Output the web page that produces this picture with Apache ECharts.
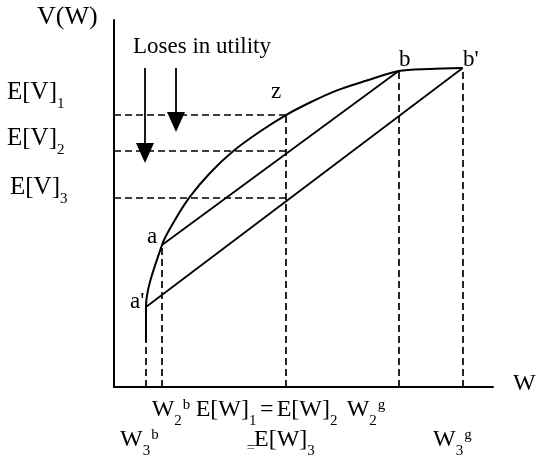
<!DOCTYPE html>
<html>
<head>
<meta charset="utf-8">
<script src="https://cdn.jsdelivr.net/npm/echarts@6/dist/echarts.min.js"></script>
<style>html,body{margin:0;padding:0;background:#fff;}#c{width:540px;height:466px;}</style>
</head>
<body>
<div id="c"></div>
<script>
// ---- data (chart units: W and V on 0..100 scales) ----
const curveW = [8.44, 8.44, 12.66, 16.09, 20.05, 25.33, 31.48, 38.52, 45.38, 51.72, 58.84, 66.49, 75.1, 83.38, 92.0];
const curveV = [12.26, 21.80, 38.69, 45.50, 51.85, 58.31, 64.31, 69.62, 74.11, 77.52, 80.82, 83.43, 86.10, 86.65, 86.92];
const pointNames = ["a'", "a", "z", "b", "b'"];
const pointW = [8.44, 12.66, 45.38, 75.1, 92.0];
const pointV = [21.80, 38.69, 74.11, 86.10, 86.92];
const EV = [74.11, 64.3, 51.5];           // E[V]1, E[V]2, E[V]3
const EW = 45.38;                          // E[W]1 = E[W]2 = E[W]3
const W3b = 8.44, W2b = 12.66, W2g = 75.1, W3g = 92.0;
const curveBaseV = 12.26;
const arrowW = [8.18, 16.36];
const arrowTop = [86.92, 86.92];
const arrowTip = [61.04, 69.48];

const FONT = '"Liberation Serif", "Times New Roman", serif';
const chart = echarts.init(document.getElementById('c'), null, {renderer: 'canvas'});

const ctx = document.createElement('canvas').getContext('2d');
function tw(t, size) { ctx.font = size + 'px ' + FONT; return ctx.measureText(t).width; }

// text builder: parts [text, kind] kind: m main, s sub, p sup, q small-on-baseline
function label(x, base, parts, size) {
  size = size || 24;
  const small = 15;
  const out = [];
  let cx = x;
  parts.forEach(function (p) {
    const t = p[0], k = p[1];
    let fs = size, b = base;
    if (k === 's') { fs = small; b = base + 8; }
    else if (k === 'p') { fs = small; b = base - 8; }
    else if (k === 'q') { fs = small; b = base + 5; }
    out.push({
      type: 'text', x: cx, y: b - 0.34 * fs, z: 100, silent: true,
      style: { text: t, font: fs + 'px ' + FONT, fill: '#000', align: 'left', verticalAlign: 'middle' }
    });
    cx += tw(t, fs) + (k === 's' ? 1 : 0);
  });
  return out;
}

let texts = [];
texts = texts.concat(label(37, 26, [['V(W)', 'm']], 26));
texts = texts.concat(label(133, 55, [['Loses in utility', 'm']], 23));
texts = texts.concat(label(7, 101, [['E[V]', 'm'], ['1', 's']], 25));
texts = texts.concat(label(7, 147, [['E[V]', 'm'], ['2', 's']], 25));
texts = texts.concat(label(10, 196, [['E[V]', 'm'], ['3', 's']], 25));
texts = texts.concat(label(513, 392, [['W', 'm']]));
texts = texts.concat(label(151.7, 418, [['W', 'm'], ['2', 's'], ['b', 'p']]));
texts = texts.concat(label(195.7, 418, [['E[W]', 'm'], ['1', 's']]));
texts = texts.concat(label(260, 418, [['=', 'm']]));
texts = texts.concat(label(276.7, 418, [['E[W]', 'm'], ['2', 's']]));
texts = texts.concat(label(346.7, 418, [['W', 'm'], ['2', 's'], ['g', 'p']]));
texts = texts.concat(label(120, 448, [['W', 'm'], ['3', 's'], ['b', 'p']]));
texts = texts.concat(label(246.7, 448, [['=', 'q']]));
texts = texts.concat(label(254, 448, [['E[W]', 'm'], ['3', 's']]));
texts = texts.concat(label(433, 448, [['W', 'm'], ['3', 's'], ['g', 'p']]));
// point labels
const ptLabelPos = { "a'": [130, 310], "a": [147, 245], "z": [271, 100], "b": [399, 68], "b'": [463, 68] };
pointNames.forEach(function (n) { texts = texts.concat(label(ptLabelPos[n][0], ptLabelPos[n][1], [[n, 'm']], 23)); });

const black = '#000';
const dashed = { color: black, width: 1.7, type: [7, 4] };

const option = {
  animation: false,
  backgroundColor: '#fff',
  grid: { left: 114, right: 47, top: 20, bottom: 79 },
  xAxis: {
    type: 'value', min: 0, max: 100,
    axisLine: { show: true, lineStyle: { color: black, width: 2 } },
    axisTick: { show: false }, axisLabel: { show: false }, splitLine: { show: false }
  },
  yAxis: {
    type: 'value', min: 0, max: 100,
    axisLine: { show: true, lineStyle: { color: black, width: 2 } },
    axisTick: { show: false }, axisLabel: { show: false }, splitLine: { show: false }
  },
  graphic: texts,
  series: [
    {
      type: 'line', name: 'V(W)', smooth: 0.3, symbol: 'none',
      lineStyle: { color: black, width: 2 },
      data: curveW.map(function (w, i) { return [w, curveV[i]]; }), z: 5
    },
    {
      type: 'line', name: 'chord a-b', symbol: 'none',
      lineStyle: { color: black, width: 1.8 },
      data: [[pointW[1], pointV[1]], [pointW[3], pointV[3]]]
    },
    {
      type: 'line', name: "chord a'-b'", symbol: 'none',
      lineStyle: { color: black, width: 1.8 },
      data: [[pointW[0], pointV[0]], [pointW[4], pointV[4]]]
    },
    {
      type: 'line', name: 'guides', symbol: 'none', data: [], silent: true,
      markLine: {
        silent: true, symbol: ['none', 'none'], label: { show: false },
        lineStyle: dashed, animation: false,
        data: [
          [{ coord: [0, EV[0]] }, { coord: [EW, EV[0]] }],
          [{ coord: [0, EV[1]] }, { coord: [EW, EV[1]] }],
          [{ coord: [0, EV[2]] }, { coord: [EW, EV[2]] }],
          [{ coord: [EW, 0] }, { coord: [EW, EV[0]] }],
          [{ coord: [W3b, 0] }, { coord: [W3b, curveBaseV] }],
          [{ coord: [W2b, 0] }, { coord: [W2b, pointV[1]] }],
          [{ coord: [W2g, 0] }, { coord: [W2g, pointV[3]] }],
          [{ coord: [W3g, 0] }, { coord: [W3g, pointV[4]] }]
        ]
      }
    },
    {
      type: 'custom', name: 'arrows',
      encode: { x: 0, y: [1, 2] },
      data: arrowW.map(function (w, i) { return [w, arrowTop[i], arrowTip[i]]; }),
      renderItem: function (params, api) {
        const p0 = api.coord([api.value(0), api.value(1)]);
        const p1 = api.coord([api.value(0), api.value(2)]);
        const hl = 20, hw = 9;
        return {
          type: 'group',
          children: [
            { type: 'line', shape: { x1: p0[0], y1: p0[1], x2: p1[0], y2: p1[1] - hl + 2 },
              style: { stroke: black, lineWidth: 1.8 } },
            { type: 'polygon', shape: { points: [[p1[0] - hw, p1[1] - hl], [p1[0] + hw, p1[1] - hl], [p1[0], p1[1]]] },
              style: { fill: black } }
          ]
        };
      }
    }
  ]
};
chart.setOption(option);
</script>
</body>
</html>
